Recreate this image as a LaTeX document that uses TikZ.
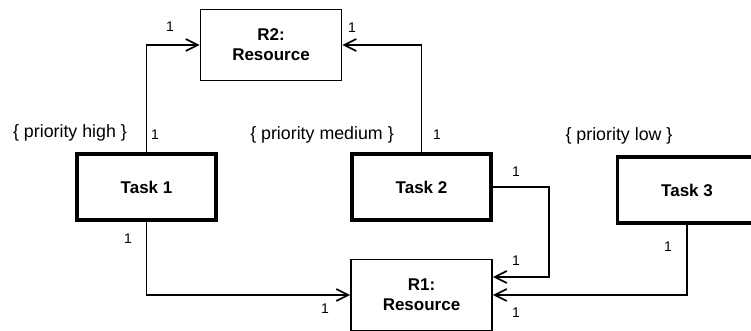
\documentclass[tikz,border=0pt]{standalone}
\usepackage{fontspec}
\setmainfont{Liberation Sans}
\usetikzlibrary{arrows.meta}

\begin{document}
\begin{tikzpicture}[x=1pt, y=-1pt,
  task/.style={draw, line width=3.5pt, minimum width=139pt, minimum height=66pt, font=\fontsize{17}{19}\selectfont\bfseries},
  res/.style={draw, line width=1.7pt, minimum width=141pt, minimum height=71pt, align=center, font=\fontsize{17}{20}\selectfont\bfseries},
  prio/.style={font=\fontsize{17.8}{19}\selectfont},
  mult/.style={font=\fontsize{14}{15}\selectfont},
  arr/.style={line width=1.7pt, -{Straight Barb[length=12pt,width=12pt,line width=1.7pt]}}]
\clip (0,0) rectangle (751,331);
\node (r2) at (271,45) [res] {R2:\\Resource};
\node (r1) at (421.5,295) [res] {R1:\\Resource};
\node (t1) at (146.5,187) [task] {Task 1};
\node (t2) at (421.5,187) [task] {Task 2};
\node (t3) at (687,190) [task] {Task 3};
\node (p1) at (70,133) [prio] {\{ priority high \}};
\node (p2) at (322,135) [prio] {\{ priority medium \}};
\node (p3) at (619,136) [prio] {\{ priority low \}};
\node (m1) at (170,27) [mult] {1};
\node (m2) at (352,28) [mult] {1};
\node (m3) at (155,135) [mult] {1};
\node (m4) at (437,135) [mult] {1};
\node (m5) at (128,239) [mult] {1};
\node (m6) at (325,309) [mult] {1};
\node (m7) at (516,172) [mult] {1};
\node (m8) at (516,261) [mult] {1};
\node (m9) at (516,313) [mult] {1};
\node (m10) at (668,247) [mult] {1};
\coordinate (c2) at ([yshift=18pt]r1.east);
\draw[arr] (t1) |- (r2);
\draw[arr] (t2) |- (r2);
\draw[arr] (t1) |- (r1);
\draw[arr] (t3) |- (r1);
\draw[arr] (t2.east) -- ++(56,0) |- (c2);
\end{tikzpicture}
\end{document}
